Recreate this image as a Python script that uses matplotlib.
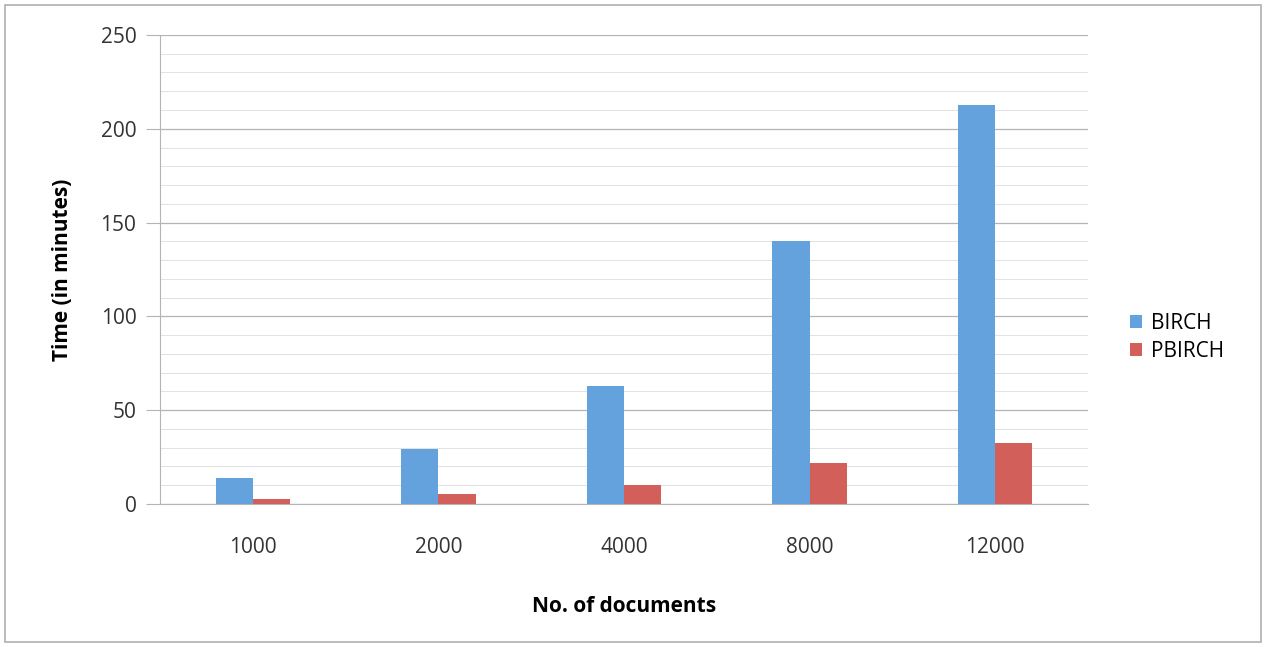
import matplotlib.pyplot as plt
import numpy as np
from matplotlib.patches import Rectangle

docs = ["1000", "2000", "4000", "8000", "12000"]
birch = [14, 29.5, 63, 140, 212.5]
pbirch = [2.7, 5.3, 10.2, 22, 32.5]

plt.rcParams['font.family'] = ['Open Sans', 'DejaVu Sans']

fig = plt.figure(figsize=(12.66, 6.47), dpi=100)
ax = fig.add_axes([0.1264, 0.221, 0.733, 0.725])

x = np.arange(len(docs))
w = 0.2
ax.bar(x - w / 2, birch, w, color='#64a2de', label='BIRCH', zorder=3)
ax.bar(x + w / 2, pbirch, w, color='#d25f5a', label='PBIRCH', zorder=3)

ax.set_xlim(-0.5, len(docs) - 0.5)
ax.set_ylim(0, 250)
ax.set_yticks(np.arange(0, 251, 50))
ax.set_yticks(np.arange(0, 251, 10), minor=True)
ax.set_xticks(x)
ax.set_xticklabels(docs)
ax.grid(axis='y', which='major', color='#b4b4b4', linewidth=0.9, zorder=0)
ax.grid(axis='y', which='minor', color='#e2e2e2', linewidth=0.7, zorder=0)
ax.tick_params(axis='y', which='major', length=10, color='#b4b4b4', labelsize=15,
               labelcolor='#333333', pad=7)
ax.tick_params(axis='y', which='minor', length=0)
ax.tick_params(axis='x', length=0, labelsize=15, labelcolor='#333333', pad=24)

for s in ['top', 'right']:
    ax.spines[s].set_visible(False)
ax.spines['left'].set_color('#b4b4b4')
ax.spines['bottom'].set_color('#b4b4b4')

ax.set_ylabel('Time (in minutes)', fontsize=15, fontweight='bold', labelpad=20)
ax.set_xlabel('No. of documents', fontsize=15, fontweight='bold', labelpad=27)

ax.legend(loc='center left', bbox_to_anchor=(1.025, 0.355), frameon=False,
          fontsize=15, handlelength=0.6, handleheight=0.6, handletextpad=0.4,
          labelspacing=0.35)

fig.patches.append(Rectangle((0.004, 0.008), 0.992, 0.984, transform=fig.transFigure,
                             fill=False, edgecolor='#b0b0b0', linewidth=1.2))

plt.savefig('out.png', dpi=100)
